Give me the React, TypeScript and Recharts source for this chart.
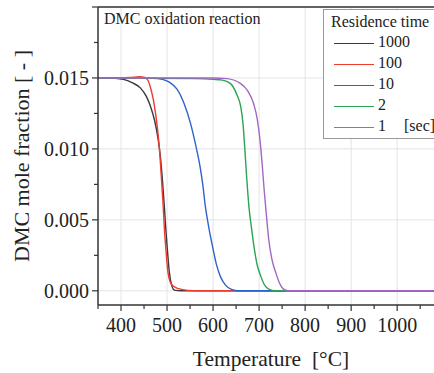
import React from 'react';
import { LineChart, Line, XAxis, YAxis, CartesianGrid, ReferenceLine } from 'recharts';

// temperature [°C] / DMC mole fraction per residence time
const temp1000 = [350, 380, 405, 425, 442, 455, 464, 473, 481, 486, 490, 494, 497, 501, 505, 510, 516, 530, 1080];
const frac1000 = [0.015, 0.01499, 0.0149, 0.01465, 0.0143, 0.0137, 0.013, 0.012, 0.0106, 0.0093, 0.0078, 0.006, 0.0045, 0.0028, 0.0013, 0.0004, 0.00005, 0, 0];

const temp100 = [350, 420, 440, 452, 459, 465, 470, 475, 479, 483, 487, 491, 494, 498, 502, 507, 515, 525, 545, 570, 1080];
const frac100 = [0.015, 0.01504, 0.01508, 0.01503, 0.0148, 0.0142, 0.0135, 0.0125, 0.0115, 0.0102, 0.0083, 0.0063, 0.0045, 0.0027, 0.0013, 0.0006, 0.0003, 0.00015, 0.00003, 0, 0];

const temp10 = [350, 470, 490, 505, 522, 537, 551, 562, 572, 578, 583, 590, 599, 607, 616, 627, 640, 655, 1080];
const frac10 = [0.015, 0.01498, 0.0149, 0.0147, 0.0142, 0.0132, 0.0118, 0.0103, 0.0087, 0.0074, 0.006, 0.0046, 0.0031, 0.0019, 0.001, 0.0004, 0.0001, 0, 0];

const temp2 = [350, 560, 600, 620, 638, 652, 660, 665, 669, 673, 678, 684, 689, 696, 704, 712, 722, 735, 1080];
const frac2 = [0.015, 0.01495, 0.0149, 0.01485, 0.0146, 0.0138, 0.013, 0.0118, 0.01, 0.008, 0.0059, 0.0043, 0.0031, 0.0018, 0.001, 0.0004, 0.0001, 0, 0];

const temp1 = [350, 600, 630, 660, 675, 688, 696, 702, 707, 711, 716, 721, 728, 736, 745, 754, 765, 1080];
const frac1 = [0.015, 0.015, 0.01495, 0.0146, 0.0141, 0.0132, 0.0121, 0.0106, 0.0088, 0.0071, 0.0053, 0.0036, 0.0022, 0.0013, 0.0005, 0.0001, 0, 0];

const seriesNames = ['1000', '100', '10', '2', '1'];
const seriesColors = ['#3a3a3a', '#ee3b30', '#2e62cc', '#2aa354', '#a267c4'];

const xMajor = [400, 500, 600, 700, 800, 900, 1000];
const xTicks = [350, 400, 450, 500, 550, 600, 650, 700, 750, 800, 850, 900, 950, 1000, 1050];
const yMajor = [0, 0.005, 0.01, 0.015, 0.02];
const yTicks = [0, 0.0025, 0.005, 0.0075, 0.01, 0.0125, 0.015, 0.0175, 0.02];

const toRows = (ts: number[], vs: number[]) => ts.map((t, i) => ({ t, v: vs[i] }));
const series = [
  toRows(temp1000, frac1000),
  toRows(temp100, frac100),
  toRows(temp10, frac10),
  toRows(temp2, frac2),
  toRows(temp1, frac1),
];

const FONT = '"Liberation Serif", "Times New Roman", serif';
const AXIS = '#333';

const XTick = (props: any) => {
  const { x, y, payload } = props;
  const major = xMajor.includes(payload.value);
  return (
    <g>
      <line x1={x} x2={x} y1={y} y2={y + (major ? 6 : 4)} stroke={AXIS} strokeWidth={1.2} />
      {major && (
        <text x={x} y={y + 27} textAnchor="middle" fontFamily={FONT} fontSize={20} fill="#222">
          {payload.value}
        </text>
      )}
    </g>
  );
};

const YTick = (props: any) => {
  const { x, y, payload } = props;
  const major = yMajor.includes(payload.value);
  const labeled = major && payload.value < 0.02;
  return (
    <g>
      <line x1={x - (major ? 6 : 4)} x2={x} y1={y} y2={y} stroke={AXIS} strokeWidth={1.2} />
      {labeled && (
        <text x={x - 9} y={y + 7} textAnchor="end" fontFamily={FONT} fontSize={20} fill="#222">
          {payload.value.toFixed(3)}
        </text>
      )}
    </g>
  );
};

const App: React.FC = () => (
  <div style={{ position: 'absolute', left: 0, top: 0, width: 434, height: 373, background: '#fff', fontFamily: FONT }}>
    <LineChart width={434} height={373} margin={{ top: 7, right: 0, bottom: 0, left: 0 }}>
      <CartesianGrid
        stroke="#e4e4e4"
        horizontalValues={yMajor}
        verticalValues={xMajor}
      />
      <XAxis
        type="number"
        dataKey="t"
        domain={[350, 1080]}
        ticks={xTicks}
        interval={0}
        allowDataOverflow
        tickLine={false}
        tickSize={0}
        tickMargin={0}
        tick={<XTick />}
        axisLine={{ stroke: AXIS, strokeWidth: 1.5 }}
        height={68}
      />
      <YAxis
        type="number"
        dataKey="v"
        domain={[-0.001, 0.02]}
        ticks={yTicks}
        interval={0}
        allowDataOverflow
        tickLine={false}
        tickSize={0}
        tickMargin={0}
        tick={<YTick />}
        axisLine={{ stroke: AXIS, strokeWidth: 1.5 }}
        width={98}
      />
      <ReferenceLine y={0.02} stroke={AXIS} strokeWidth={1.5} />
      {series.map((rows, i) => (
        <Line
          key={seriesNames[i]}
          data={rows}
          dataKey="v"
          type="monotone"
          stroke={seriesColors[i]}
          strokeWidth={1.4}
          dot={false}
          isAnimationActive={false}
        />
      ))}
    </LineChart>

    <div style={{ position: 'absolute', left: 104, top: 10, fontSize: 16, color: '#222', whiteSpace: 'nowrap' }}>
      DMC oxidation reaction
    </div>

    <div
      style={{
        position: 'absolute',
        left: 323,
        top: 9,
        width: 130,
        height: 128,
        border: '1px solid #999',
        background: '#fff',
        fontSize: 16,
        color: '#222',
      }}
    >
      <div style={{ position: 'absolute', left: 7, top: 3, whiteSpace: 'nowrap' }}>Residence time</div>
      {seriesNames.map((name, i) => (
        <div key={name} style={{ position: 'absolute', left: 10, top: 23 + i * 21, height: 21, whiteSpace: 'nowrap' }}>
          <span
            style={{
              position: 'absolute',
              left: 0,
              top: 10,
              width: 40,
              height: 0,
              borderTop: `1.5px solid ${seriesColors[i]}`,
            }}
          />
          <span style={{ position: 'absolute', left: 44, top: 0 }}>{name}</span>
          {i === seriesNames.length - 1 && <span style={{ position: 'absolute', left: 70, top: 0 }}>[sec]</span>}
        </div>
      ))}
    </div>

    <div
      style={{
        position: 'absolute',
        left: 22,
        top: 156,
        transform: 'translate(-50%, -50%) rotate(-90deg)',
        fontSize: 22,
        color: '#222',
        whiteSpace: 'nowrap',
      }}
    >
      DMC mole fraction [ - ]
    </div>

    <div
      style={{
        position: 'absolute',
        left: 271,
        top: 359,
        transform: 'translate(-50%, -50%)',
        fontSize: 21.5,
        color: '#222',
        whiteSpace: 'pre',
      }}
    >
      Temperature  [°C]
    </div>
  </div>
);

export default App;
